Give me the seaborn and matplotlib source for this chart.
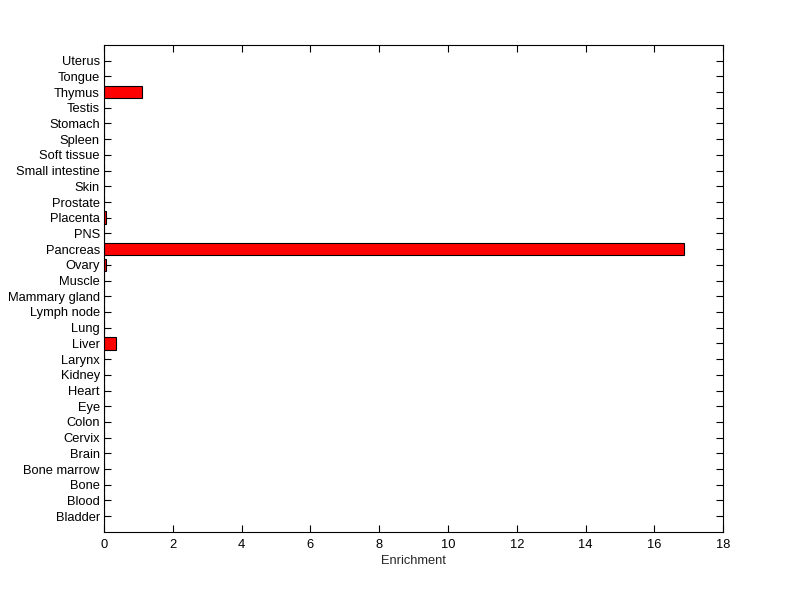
import pandas as pd
import numpy as np
import matplotlib.pyplot as plt
import seaborn as sns

# tissues, listed bottom to top as in the picture
tissues = ["Bladder", "Blood", "Bone", "Bone marrow", "Brain", "Cervix", "Colon",
           "Eye", "Heart", "Kidney", "Larynx", "Liver", "Lung", "Lymph node",
           "Mammary gland", "Muscle", "Ovary", "Pancreas", "PNS", "Placenta",
           "Prostate", "Skin", "Small intestine", "Soft tissue", "Spleen",
           "Stomach", "Testis", "Thymus", "Tongue", "Uterus"]
enrichment = [0, 0, 0, 0, 0, 0, 0,
              0, 0, 0, 0, 0.35, 0, 0,
              0, 0, 0.07, 16.87, 0, 0.07,
              0, 0, 0, 0, 0,
              0, 0, 1.10, 0, 0]
xticks = [0, 2, 4, 6, 8, 10, 12, 14, 16, 18]

df = pd.DataFrame({"Tissue": tissues, "Enrichment": enrichment})

sns.set_style("white")
plt.rcParams['font.family'] = ['Liberation Sans', 'DejaVu Sans']

fig = plt.figure(figsize=(8, 5.99), dpi=100)
ax = fig.add_axes([0.13, 0.112, 0.774, 0.813])

# top of the picture first: seaborn puts the first category at the top
order = tissues[::-1]
sns.barplot(data=df, x="Enrichment", y="Tissue", order=order, orient="h",
            color="#ff0000", saturation=1, width=0.8,
            edgecolor="black", linewidth=0.8, ax=ax)

ax.set_xlim(0, 18)
ax.set_ylim(len(tissues), -1)
ax.set_xticks(xticks)
ax.set_xlabel("Enrichment", fontsize=9.3, labelpad=3)
ax.set_ylabel("")

ax.tick_params(axis="both", direction="in", length=5, width=0.8,
               labelsize=9.3, top=True, right=True, bottom=True, left=True,
               colors="black")
ax.tick_params(axis="y", pad=3)
ax.tick_params(axis="x", pad=5)
for s in ax.spines.values():
    s.set_visible(True)
    s.set_color("black")
    s.set_linewidth(0.8)

fig.savefig("out.png", dpi=100, facecolor="white")
